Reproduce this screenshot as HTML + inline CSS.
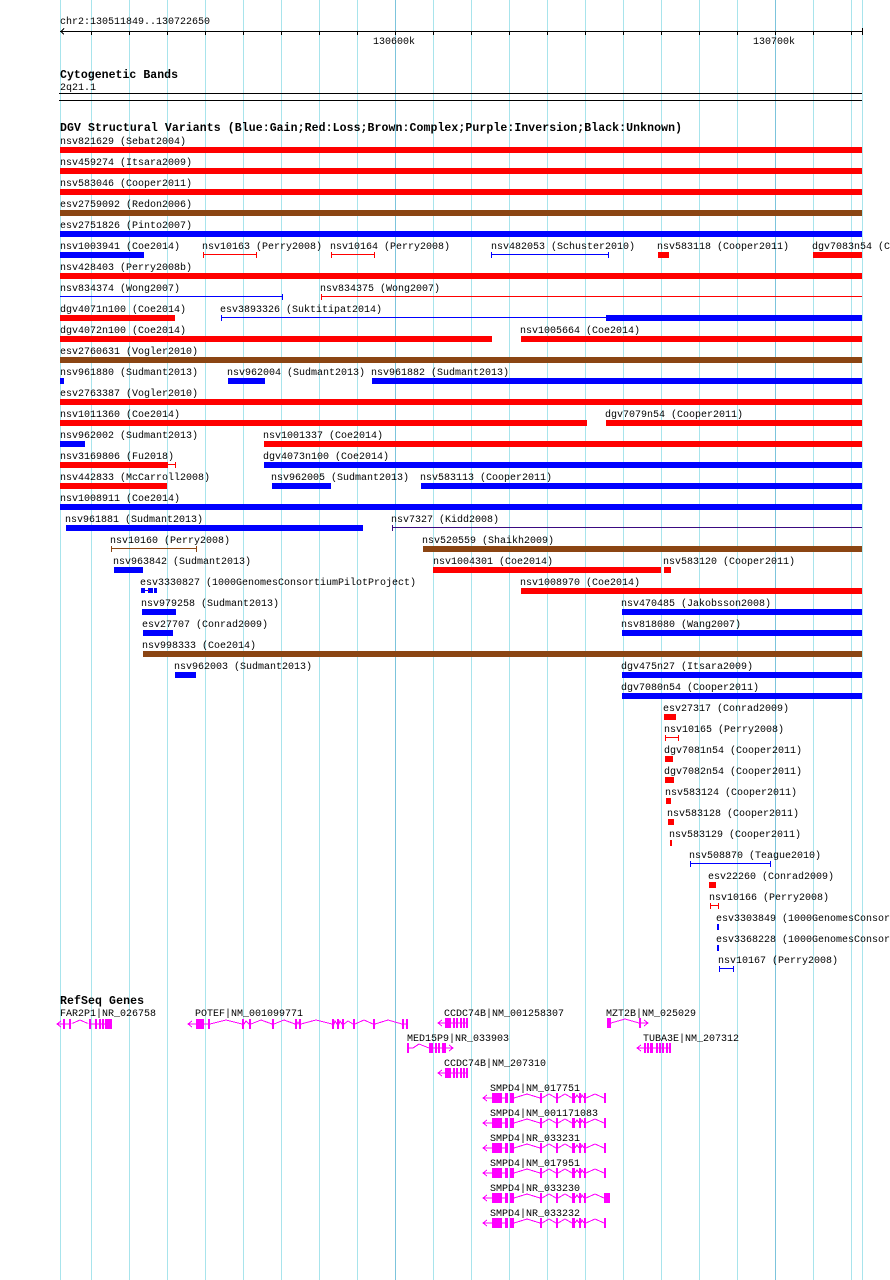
<!DOCTYPE html>
<html><head><meta charset="utf-8"><style>
html,body{margin:0;padding:0;background:#fff;}
svg{display:block;}
text{font-family:"Liberation Mono",monospace;font-size:10px;fill:#000;}
.b{font-weight:bold;font-size:11.5px;}
</style></head><body>
<svg width="890" height="1280" xmlns="http://www.w3.org/2000/svg" shape-rendering="crispEdges">
<defs>
<g id="smpd4" fill="#f0f" stroke="none">
<polyline points="487,-3 483,0 487,3" fill="none" stroke="#f0f"/>
<line x1="483" y1="0" x2="492" y2="0" stroke="#f0f"/>
<rect x="492" y="-5" width="10" height="10"/><rect x="505" y="-5" width="3" height="10"/><rect x="510" y="-5" width="4" height="10"/>
<rect x="540" y="-5" width="2" height="10"/><rect x="556" y="-5" width="2" height="10"/><rect x="572" y="-5" width="3" height="10"/>
<rect x="579" y="-5" width="2" height="10"/><rect x="584" y="-5" width="2" height="10"/><rect x="604" y="-5" width="2" height="10"/>
<polyline fill="none" stroke="#f0f" points="502,0 505,0 M"/>
<polyline fill="none" stroke="#f0f" points="502,0 505,0"/>
<polyline fill="none" stroke="#f0f" points="514,0 527,-4 540,0"/>
<polyline fill="none" stroke="#f0f" points="542,0 549,-4 556,0"/>
<polyline fill="none" stroke="#f0f" points="558,0 565,-4 572,0"/>
<polyline fill="none" stroke="#f0f" points="575,0 577,-3 579,0"/>
<polyline fill="none" stroke="#f0f" points="581,0 582,-3 584,0"/>
<polyline fill="none" stroke="#f0f" points="586,0 595,-4 604,0"/>
</g>
<g id="ccdc" fill="#f0f">
<polyline points="442,-3 438,0 442,3" fill="none" stroke="#f0f"/>
<line x1="438" y1="0" x2="467" y2="0" stroke="#f0f"/>
<rect x="445" y="-5" width="6" height="10"/><rect x="453" y="-5" width="2" height="10"/><rect x="456" y="-5" width="2" height="10"/>
<rect x="460" y="-5" width="2" height="10"/><rect x="463" y="-5" width="2" height="10"/><rect x="466" y="-5" width="2" height="10"/>
</g>
</defs>
<!-- grid -->
<g stroke="#a8e4ec" stroke-width="1">
<line x1="60.5" y1="0" x2="60.5" y2="1280"/>
<line x1="91.5" y1="0" x2="91.5" y2="1280"/><line x1="129.5" y1="0" x2="129.5" y2="1280"/>
<line x1="167.5" y1="0" x2="167.5" y2="1280"/><line x1="205.5" y1="0" x2="205.5" y2="1280"/>
<line x1="243.5" y1="0" x2="243.5" y2="1280"/><line x1="281.5" y1="0" x2="281.5" y2="1280"/>
<line x1="319.5" y1="0" x2="319.5" y2="1280"/><line x1="357.5" y1="0" x2="357.5" y2="1280"/>
<line x1="433.5" y1="0" x2="433.5" y2="1280"/><line x1="471.5" y1="0" x2="471.5" y2="1280"/>
<line x1="509.5" y1="0" x2="509.5" y2="1280"/><line x1="547.5" y1="0" x2="547.5" y2="1280"/>
<line x1="585.5" y1="0" x2="585.5" y2="1280"/><line x1="623.5" y1="0" x2="623.5" y2="1280"/>
<line x1="661.5" y1="0" x2="661.5" y2="1280"/><line x1="699.5" y1="0" x2="699.5" y2="1280"/>
<line x1="737.5" y1="0" x2="737.5" y2="1280"/><line x1="813.5" y1="0" x2="813.5" y2="1280"/>
<line x1="851.5" y1="0" x2="851.5" y2="1280"/><line x1="862.5" y1="0" x2="862.5" y2="1280"/>
</g>
<g stroke="#7cc4dc"><line x1="395.5" y1="0" x2="395.5" y2="1280"/><line x1="775.5" y1="0" x2="775.5" y2="1280"/></g>
<!-- axis -->
<text x="60" y="24">chr2:130511849..130722650</text>
<g stroke="#000">
<line x1="60" y1="31.5" x2="862" y2="31.5"/>
<polyline points="64,28.5 61,31.5 64,34.5" fill="none"/>
<path d="M91.5 31v4M129.5 31v4M167.5 31v4M205.5 31v4M243.5 31v4M281.5 31v4M319.5 31v4M357.5 31v4M395.5 31v4M433.5 31v4M471.5 31v4M509.5 31v4M547.5 31v4M585.5 31v4M623.5 31v4M661.5 31v4M699.5 31v4M737.5 31v4M775.5 31v4M813.5 31v4M851.5 31v4M862.5 28v7"/>
</g>
<text x="373" y="44">130600k</text>
<text x="753" y="44">130700k</text>
<text class="b" x="60" y="78" textLength="118">Cytogenetic Bands</text>
<text x="60" y="90">2q21.1</text>
<rect x="59" y="93" width="803" height="1" fill="#000"/>
<rect x="59" y="100" width="803" height="1" fill="#000"/>
<text class="b" x="60" y="131" textLength="622">DGV Structural Variants (Blue:Gain;Red:Loss;Brown:Complex;Purple:Inversion;Black:Unknown)</text>

<!-- labels -->
<text x="60" y="144">nsv821629 (Sebat2004)</text>
<text x="60" y="165">nsv459274 (Itsara2009)</text>
<text x="60" y="186">nsv583046 (Cooper2011)</text>
<text x="60" y="207">esv2759092 (Redon2006)</text>
<text x="60" y="228">esv2751826 (Pinto2007)</text>
<text x="60" y="249">nsv1003941 (Coe2014)</text><text x="202" y="249">nsv10163 (Perry2008)</text><text x="330" y="249">nsv10164 (Perry2008)</text><text x="491" y="249">nsv482053 (Schuster2010)</text><text x="657" y="249">nsv583118 (Cooper2011)</text><text x="812" y="249">dgv7083n54 (C</text>
<text x="60" y="270">nsv428403 (Perry2008b)</text>
<text x="60" y="291">nsv834374 (Wong2007)</text><text x="320" y="291">nsv834375 (Wong2007)</text>
<text x="60" y="312">dgv4071n100 (Coe2014)</text><text x="220" y="312">esv3893326 (Suktitipat2014)</text>
<text x="60" y="333">dgv4072n100 (Coe2014)</text><text x="520" y="333">nsv1005664 (Coe2014)</text>
<text x="60" y="354">esv2760631 (Vogler2010)</text>
<text x="60" y="375">nsv961880 (Sudmant2013)</text><text x="227" y="375">nsv962004 (Sudmant2013)</text><text x="371" y="375">nsv961882 (Sudmant2013)</text>
<text x="60" y="396">esv2763387 (Vogler2010)</text>
<text x="60" y="417">nsv1011360 (Coe2014)</text><text x="605" y="417">dgv7079n54 (Cooper2011)</text>
<text x="60" y="438">nsv962002 (Sudmant2013)</text><text x="263" y="438">nsv1001337 (Coe2014)</text>
<text x="60" y="459">nsv3169806 (Fu2018)</text><text x="263" y="459">dgv4073n100 (Coe2014)</text>
<text x="60" y="480">nsv442833 (McCarroll2008)</text><text x="271" y="480">nsv962005 (Sudmant2013)</text><text x="420" y="480">nsv583113 (Cooper2011)</text>
<text x="60" y="501">nsv1008911 (Coe2014)</text>
<text x="65" y="522">nsv961881 (Sudmant2013)</text><text x="391" y="522">nsv7327 (Kidd2008)</text>
<text x="110" y="543">nsv10160 (Perry2008)</text><text x="422" y="543">nsv520559 (Shaikh2009)</text>
<text x="113" y="564">nsv963842 (Sudmant2013)</text><text x="433" y="564">nsv1004301 (Coe2014)</text><text x="663" y="564">nsv583120 (Cooper2011)</text>
<text x="140" y="585">esv3330827 (1000GenomesConsortiumPilotProject)</text><text x="520" y="585">nsv1008970 (Coe2014)</text>
<text x="141" y="606">nsv979258 (Sudmant2013)</text><text x="621" y="606">nsv470485 (Jakobsson2008)</text>
<text x="142" y="627">esv27707 (Conrad2009)</text><text x="621" y="627">nsv818080 (Wang2007)</text>
<text x="142" y="648">nsv998333 (Coe2014)</text>
<text x="174" y="669">nsv962003 (Sudmant2013)</text><text x="621" y="669">dgv475n27 (Itsara2009)</text>
<text x="621" y="690">dgv7080n54 (Cooper2011)</text>
<text x="663" y="711">esv27317 (Conrad2009)</text>
<text x="664" y="732">nsv10165 (Perry2008)</text>
<text x="664" y="753">dgv7081n54 (Cooper2011)</text>
<text x="664" y="774">dgv7082n54 (Cooper2011)</text>
<text x="665" y="795">nsv583124 (Cooper2011)</text>
<text x="667" y="816">nsv583128 (Cooper2011)</text>
<text x="669" y="837">nsv583129 (Cooper2011)</text>
<text x="689" y="858">nsv508870 (Teague2010)</text>
<text x="708" y="879">esv22260 (Conrad2009)</text>
<text x="709" y="900">nsv10166 (Perry2008)</text>
<text x="716" y="921">esv3303849 (1000GenomesConsor</text>
<text x="716" y="942">esv3368228 (1000GenomesConsor</text>
<text x="718" y="963">nsv10167 (Perry2008)</text>

<!-- bars -->
<g fill="#f00">
<rect x="60" y="147" width="802" height="6"/><rect x="60" y="168" width="802" height="6"/><rect x="60" y="189" width="802" height="6"/>
<rect x="658" y="252" width="11" height="6"/><rect x="813" y="252" width="49" height="6"/>
<rect x="60" y="273" width="802" height="6"/>
<rect x="60" y="315" width="115" height="6"/>
<rect x="60" y="336" width="432" height="6"/><rect x="521" y="336" width="341" height="6"/>
<rect x="60" y="399" width="802" height="6"/>
<rect x="60" y="420" width="527" height="6"/><rect x="606" y="420" width="256" height="6"/>
<rect x="264" y="441" width="598" height="6"/>
<rect x="60" y="462" width="108" height="6"/>
<rect x="60" y="483" width="107" height="6"/>
<rect x="433" y="567" width="228" height="6"/><rect x="664" y="567" width="7" height="6"/>
<rect x="521" y="588" width="341" height="6"/>
<rect x="664" y="714" width="12" height="6"/>
<rect x="665" y="756" width="8" height="6"/><rect x="665" y="777" width="9" height="6"/>
<rect x="666" y="798" width="5" height="6"/><rect x="668" y="819" width="6" height="6"/><rect x="670" y="840" width="2" height="6"/>
<rect x="709" y="882" width="7" height="6"/>
</g>
<g fill="#8b4513">
<rect x="60" y="210" width="802" height="6"/><rect x="60" y="357" width="802" height="6"/>
<rect x="423" y="546" width="439" height="6"/><rect x="143" y="651" width="719" height="6"/>
</g>
<g fill="#00f">
<rect x="60" y="231" width="802" height="6"/>
<rect x="60" y="252" width="84" height="6"/>
<rect x="606" y="315" width="256" height="6"/>
<rect x="60" y="378" width="4" height="6"/><rect x="228" y="378" width="37" height="6"/><rect x="372" y="378" width="490" height="6"/>
<rect x="60" y="441" width="25" height="6"/>
<rect x="264" y="462" width="598" height="6"/>
<rect x="272" y="483" width="59" height="6"/><rect x="421" y="483" width="441" height="6"/>
<rect x="60" y="504" width="802" height="6"/>
<rect x="66" y="525" width="297" height="6"/>
<rect x="114" y="567" width="29" height="6"/>
<rect x="141" y="588" width="4" height="5"/><rect x="148" y="588" width="5" height="5"/><rect x="154" y="588" width="3" height="5"/>
<rect x="142" y="609" width="34" height="6"/><rect x="622" y="609" width="240" height="6"/>
<rect x="143" y="630" width="30" height="6"/><rect x="622" y="630" width="240" height="6"/>
<rect x="175" y="672" width="21" height="6"/><rect x="622" y="672" width="240" height="6"/>
<rect x="622" y="693" width="240" height="6"/>
<rect x="717" y="924" width="2" height="6"/><rect x="717" y="945" width="2" height="6"/>
</g>
<!-- thin lines -->
<g stroke="#f00" fill="none">
<path d="M203 254.5h54M203.5 252v6M256.5 252v6"/>
<path d="M331 254.5h44M331.5 252v6M374.5 252v6"/>
<path d="M321 296.5h541M321.5 294v6"/>
<path d="M168 464.5h8M175.5 462v6"/>
<path d="M665 737.5h14M665.5 735v6M678.5 735v6"/>
<path d="M710 905.5h9M710.5 903v6M718.5 903v6"/>
<path d="M147 590.5h2"/>
</g>
<g stroke="#00f" fill="none">
<path d="M491 254.5h118M491.5 252v6M608.5 252v6"/>
<path d="M60 296.5h223M282.5 294v6"/>
<path d="M221 317.5h385M221.5 315v6"/>
<path d="M690 863.5h81M690.5 861v6M770.5 861v6"/>
<path d="M719 968.5h15M719.5 966v6M733.5 966v6"/>
<path d="M145 590.5h3"/>
</g>
<g stroke="#3a0a80" fill="none"><path d="M392 527.5h470M392.5 525v6"/></g>
<g stroke="#8b4513" fill="none"><path d="M111 548.5h86M111.5 546v6M196.5 546v6"/></g>

<!-- RefSeq Genes -->
<text class="b" x="60" y="1004" textLength="84">RefSeq Genes</text>
<text x="60" y="1016">FAR2P1|NR_026758</text>
<text x="195" y="1016">POTEF|NM_001099771</text>
<text x="444" y="1016">CCDC74B|NM_001258307</text>
<text x="606" y="1016">MZT2B|NM_025029</text>
<text x="407" y="1041">MED15P9|NR_033903</text>
<text x="643" y="1041">TUBA3E|NM_207312</text>
<text x="444" y="1066">CCDC74B|NM_207310</text>
<text x="490" y="1091">SMPD4|NM_017751</text>
<text x="490" y="1116">SMPD4|NM_001171083</text>
<text x="490" y="1141">SMPD4|NR_033231</text>
<text x="490" y="1166">SMPD4|NM_017951</text>
<text x="490" y="1191">SMPD4|NR_033230</text>
<text x="490" y="1216">SMPD4|NR_033232</text>

<g fill="#f0f" stroke="none">
<!-- FAR2P1 y=1024 -->
<g transform="translate(0,1024)">
<polyline points="61,-3 57,0 61,3" fill="none" stroke="#f0f"/>
<line x1="57" y1="0" x2="112" y2="0" stroke="#f0f"/>
<polyline points="71,0 80,-4 89,0" fill="#fff" stroke="#f0f"/>
<line x1="71" y1="0" x2="89" y2="0" stroke="#fff"/>
<rect x="63" y="-5" width="2" height="10"/><rect x="69" y="-5" width="2" height="10"/><rect x="89" y="-5" width="2" height="10"/>
<rect x="95" y="-5" width="2" height="10"/><rect x="99" y="-5" width="2" height="10"/><rect x="102" y="-5" width="2" height="10"/><rect x="105" y="-5" width="7" height="10"/>
</g>
<!-- POTEF -->
<g transform="translate(0,1024)">
<polyline points="192,-3 188,0 192,3" fill="none" stroke="#f0f"/>
<line x1="188" y1="0" x2="196" y2="0" stroke="#f0f"/>
<rect x="196" y="-5" width="8" height="10"/>
<rect x="208" y="-5" width="2" height="10"/><rect x="242" y="-5" width="2" height="10"/><rect x="249" y="-5" width="2" height="10"/>
<rect x="272" y="-5" width="2" height="10"/><rect x="295" y="-5" width="2" height="10"/><rect x="299" y="-5" width="2" height="10"/>
<rect x="332" y="-5" width="2" height="10"/><rect x="337" y="-5" width="2" height="10"/><rect x="342" y="-5" width="2" height="10"/>
<rect x="353" y="-5" width="2" height="10"/><rect x="373" y="-5" width="2" height="10"/><rect x="402" y="-5" width="2" height="10"/><rect x="406" y="-5" width="2" height="10"/>
<polyline fill="none" stroke="#f0f" points="204,0 208,0 210,0 226,-4 242,0 244,0 246,-3 249,0 251,0 261,-4 272,0 274,0 284,-4 295,0 297,0 298,-2 299,0 301,0 316,-4 332,0 334,0 335,-3 337,0 339,0 340,-3 342,0 344,0 348,-3 353,0 355,0 364,-4 373,0 375,0 388,-4 402,0 404,0 406,0"/>
</g>
<use href="#ccdc" transform="translate(0,1023)"/>
<use href="#ccdc" transform="translate(0,1073)"/>
<!-- MZT2B -->
<g transform="translate(0,1023)">
<rect x="607" y="-5" width="4" height="10"/>
<polyline fill="none" stroke="#f0f" points="611,0 625,-4 639,0 648,0"/>
<rect x="639" y="-5" width="2" height="10"/>
<polyline points="644,-3 648,0 644,3" fill="none" stroke="#f0f"/>
</g>
<!-- MED15P9 -->
<g transform="translate(0,1048)">
<rect x="407" y="-5" width="2" height="10"/>
<polyline fill="none" stroke="#f0f" points="409,0 413,0 419,-4 429,0 453,0"/>
<rect x="429" y="-5" width="4" height="10"/><rect x="435" y="-5" width="2" height="10"/><rect x="438" y="-5" width="2" height="10"/><rect x="442" y="-5" width="2" height="10"/><rect x="444" y="-5" width="2" height="10"/>
<polyline points="449,-3 453,0 449,3" fill="none" stroke="#f0f"/>
</g>
<!-- TUBA3E -->
<g transform="translate(0,1048)">
<polyline points="641,-3 637,0 641,3" fill="none" stroke="#f0f"/>
<line x1="637" y1="0" x2="670" y2="0" stroke="#f0f"/>
<rect x="644" y="-5" width="2" height="10"/><rect x="647" y="-5" width="2" height="10"/><rect x="650" y="-5" width="3" height="10"/>
<rect x="656" y="-5" width="2" height="10"/><rect x="659" y="-5" width="2" height="10"/><rect x="662" y="-5" width="2" height="10"/>
<rect x="666" y="-5" width="2" height="10"/><rect x="669" y="-5" width="2" height="10"/>
</g>
<use href="#smpd4" transform="translate(0,1098)"/>
<use href="#smpd4" transform="translate(0,1123)"/>
<use href="#smpd4" transform="translate(0,1148)"/>
<use href="#smpd4" transform="translate(0,1173)"/>
<use href="#smpd4" transform="translate(0,1198)"/>
<rect x="604" y="1193" width="6" height="10"/>
<use href="#smpd4" transform="translate(0,1223)"/>
</g>
</svg>
</body></html>
